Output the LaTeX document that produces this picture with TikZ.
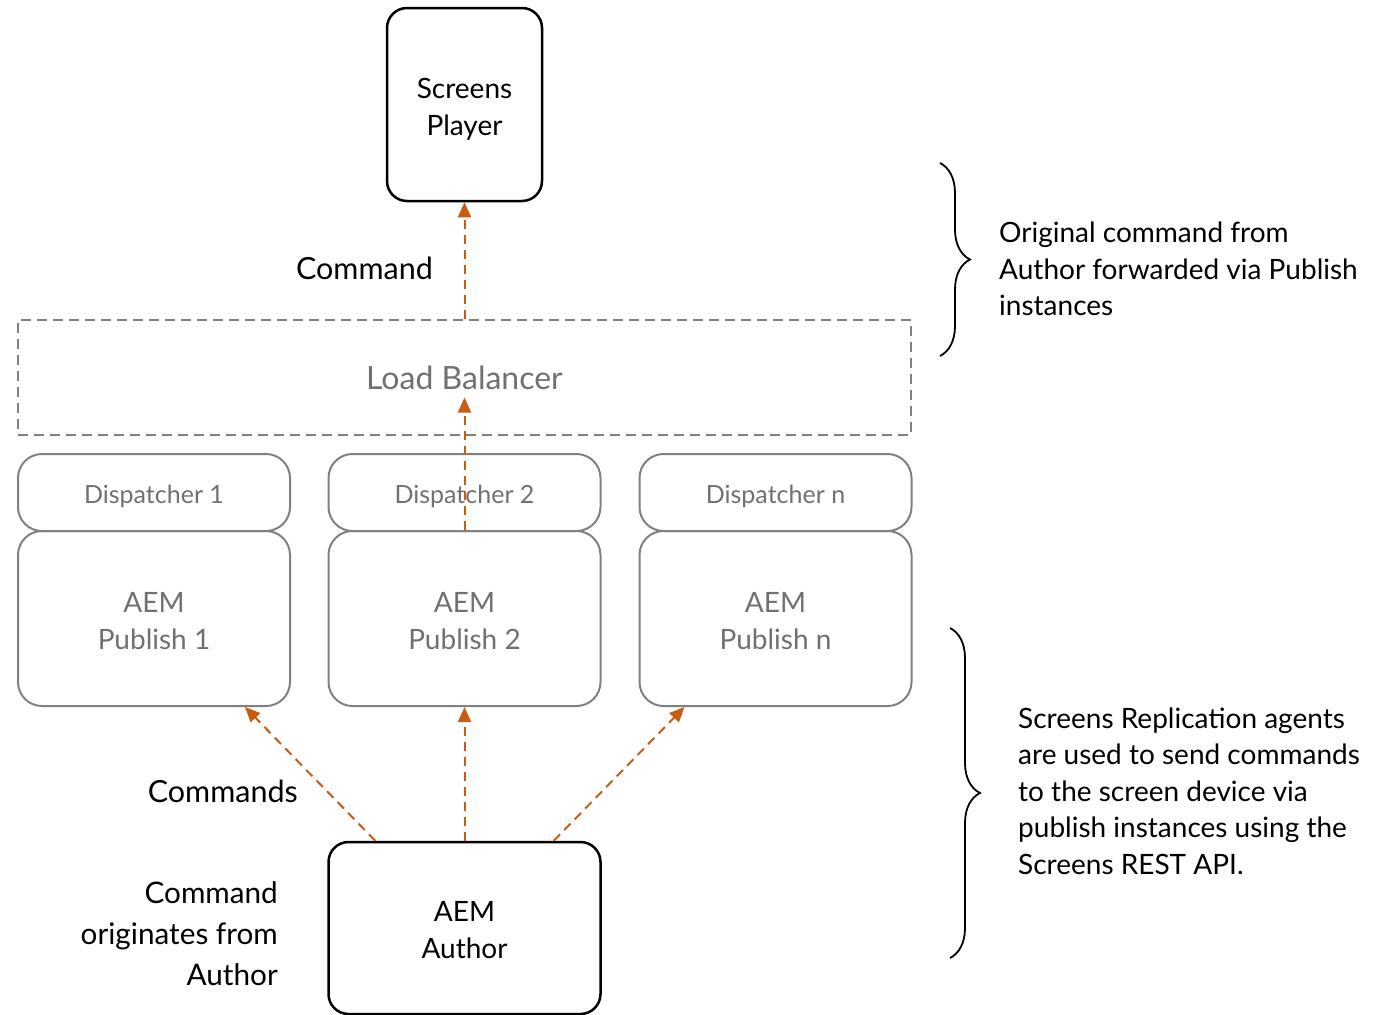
\documentclass[tikz,border=0pt]{standalone}
\usepackage{fontspec}
\setmainfont{Lato}
\usetikzlibrary{calc,arrows.meta,decorations.pathreplacing}
\definecolor{cmdorange}{RGB}{200,92,18}
\definecolor{boxgray}{RGB}{128,128,128}
\definecolor{txtgray}{RGB}{112,112,112}
\newcommand{\BoxW}{272}
\tikzset{Box/.style={
    inner sep=0pt,
    minimum width=\BoxW,
    draw=black,
    line width=2.5pt,
    rounded corners=20pt,
    align=center,
    text height=62pt,
    font=\fontsize{28}{37}\selectfont,
    }
}
\tikzset{GrayBox/.style={
    Box,
    draw=boxgray,
    line width=2pt,
    rounded corners=24pt,
    text=txtgray,
    }
}
\tikzset{Cmd/.style={
    draw=cmdorange,
    line width=2pt,
    dash pattern=on 9pt off 6pt,
    -{Triangle[length=15pt,width=13pt,fill=cmdorange]},
    }
}
\tikzset{Note/.style={
    inner sep=0pt,
    font=\fontsize{28}{36.5}\selectfont,
    }
}
\tikzset{Brace/.style={
    draw=black,
    line width=1.8pt,
    decorate,
    decoration={brace,amplitude=30pt},
    }
}

\begin{document}
\begin{tikzpicture}[x=1pt, y=-1pt]
    \useasboundingbox (0,0) rectangle (1374,1015);
    % top: player and load balancer
    \node [Box, minimum width=155, minimum height=193, text height=66pt] (player) at (464.5,104.5) {Screens\\Player};
    \node [draw=boxgray, line width=2pt, dash pattern=on 10pt off 6pt, minimum width=893, minimum height=115,
           inner sep=0pt, text=txtgray, font=\fontsize{32}{38}\selectfont] (lb) at (464.5,377.5) {Load Balancer};
    \coordinate (lbin) at ($(lb.center)+(0,20)$);
    % dispatchers and publish instances
    \node [GrayBox, minimum height=77, text height=26pt, font=\fontsize{25}{30}\selectfont] (disp1) at (154,492.5) {Dispatcher 1};
    \node [GrayBox, minimum height=77, text height=26pt, font=\fontsize{25}{30}\selectfont] (disp2) at (464.5,492.5) {Dispatcher 2};
    \node [GrayBox, minimum height=77, text height=26pt, font=\fontsize{25}{30}\selectfont] (disp3) at (775.5,492.5) {Dispatcher n};
    \node [GrayBox, minimum height=175] (pub1) at (154,618.5) {AEM\\Publish 1};
    \node [GrayBox, minimum height=175] (pub2) at (464.5,618.5) {AEM\\Publish 2};
    \node [GrayBox, minimum height=175] (pub3) at (775.5,618.5) {AEM\\Publish n};
    % author
    \node [Box, minimum height=172] (author) at (464.5,928) {AEM\\Author};
    % commands
    \draw [Cmd] (lb.north) -- (player.south);
    \draw [Cmd] (pub2.north) -- (lbin);
    \draw [Cmd] ($(author.north west)+(48,0)$) -- ($(pub1.south east)+(-46,0)$);
    \draw [Cmd] (author.north) -- (pub2.south);
    \draw [Cmd] ($(author.north east)+(-48,0)$) -- ($(pub3.south west)+(46,0)$);
    % labels
    \node [Note, anchor=east, font=\fontsize{30.5}{36}\selectfont] (cmdlabel) at (433,268) {Command};
    \node [Note, anchor=east, font=\fontsize{30.5}{36}\selectfont] (cmdslabel) at (298,791) {Commands};
    \node [Note, anchor=east, align=right, font=\fontsize{29.7}{41}\selectfont] (origin) at (278,934)
        {Command\\originates from\\Author};
    % braces and notes
    \draw [Brace] (940,163) -- (940,356);
    \node [Note, anchor=west, align=left] (note1) at (999,269)
        {Original command from\\Author forwarded via Publish\\instances};
    \draw [Brace] (950,628) -- (950,958);
    \node [Note, anchor=west, align=left] (note2) at (1018,791)
        {Screens Replication agents\\are used to send commands\\to the screen device via\\publish instances using the\\Screens REST API.};
\end{tikzpicture}
\end{document}
